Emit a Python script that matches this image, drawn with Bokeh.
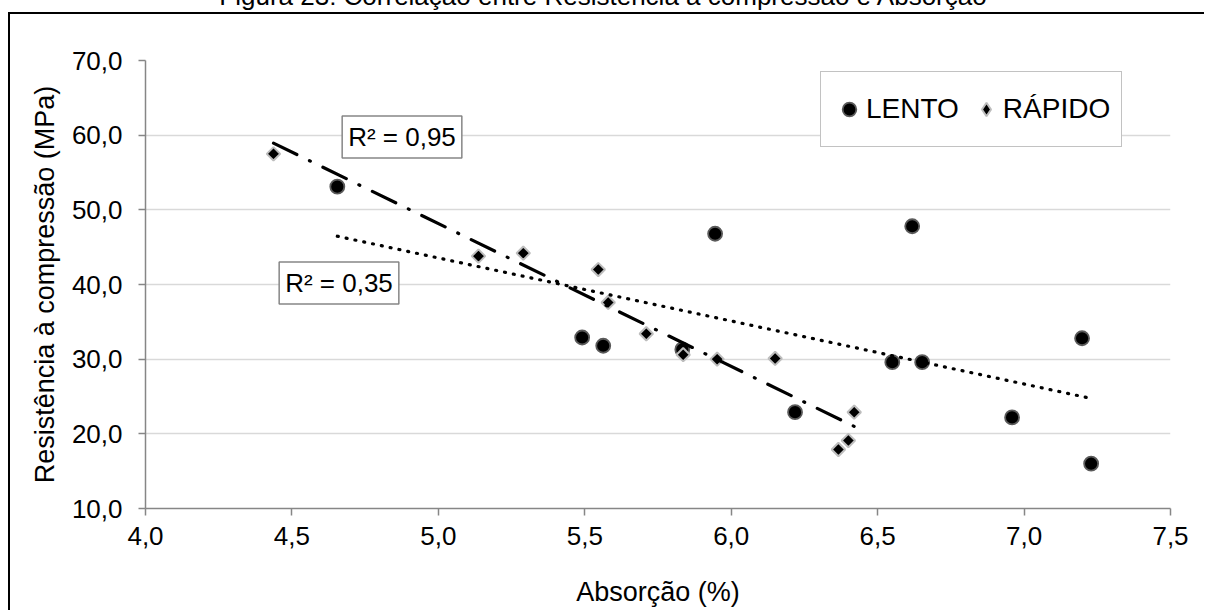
import numpy as np
from bokeh.plotting import figure
from bokeh.layouts import column
from bokeh.models import (Range1d, FixedTicker, CustomJSTickFormatter, Legend,
                          LegendItem, Label, Div)
from bokeh.embed import file_html
from bokeh.resources import INLINE

# ---------------- data ----------------
title_text = "Figura 23: Correlação entre Resistência à compressão e Absorção"
x_label = "Absorção (%)"
y_label = "Resistência à compressão (MPa)"
series_names = ["LENTO", "RÁPIDO"]

lento_abs = [4.655, 5.491, 5.563, 5.945, 5.833, 6.218, 6.618, 6.550, 6.652, 7.198, 6.959, 7.229]
lento_res = [53.1, 32.9, 31.8, 46.8, 31.3, 22.9, 47.8, 29.6, 29.6, 32.8, 22.2, 16.0]

rapido_abs = [4.437, 5.137, 5.290, 5.546, 5.580, 5.710, 5.836, 5.952, 6.150, 6.420, 6.400, 6.366]
rapido_res = [57.5, 43.8, 44.2, 42.0, 37.6, 33.4, 30.6, 30.0, 30.1, 22.9, 19.1, 17.9]

r2_labels = ["R² = 0,95", "R² = 0,35"]   # RÁPIDO, LENTO

x_ticks = [4.0, 4.5, 5.0, 5.5, 6.0, 6.5, 7.0, 7.5]
y_ticks = [10, 20, 30, 40, 50, 60, 70]

# ---------------- layout ----------------
PAGE_W, PAGE_H = 1206, 612
BOX_X, BOX_Y, BORDER = 8, 12, 2          # chart-area border (left / top) in page px
CX, CY = BOX_X + BORDER, BOX_Y + BORDER  # canvas origin in page px
W, H = PAGE_W - CX, PAGE_H - CY
FL, FR, FT, FB = 145, 1170, 60, 508      # frame edges in page px
X0, X1, Y0, Y1 = 4.0, 7.5, 10.0, 70.0
FONT = "Liberation Sans"


def px2x(px):
    return X0 + (px - FL) * (X1 - X0) / (FR - FL)


def py2y(py):
    return Y1 - (py - FT) * (Y1 - Y0) / (FB - FT)


p = figure(width=W, height=H, x_range=Range1d(X0, X1), y_range=Range1d(Y0, Y1),
           output_backend="svg", toolbar_location=None,
           min_border_left=FL - CX, min_border_right=(PAGE_W - FR),
           min_border_top=FT - CY, min_border_bottom=PAGE_H - FB,
           margin=(0, 0, 0, BOX_X),
           styles={"border-top": f"{BORDER}px solid black",
                   "border-left": f"{BORDER}px solid black"})
p.outline_line_color = None
p.background_fill_color = "white"
p.border_fill_color = "white"

fmt = CustomJSTickFormatter(code="return tick.toFixed(1).replace('.', ',');")
p.xaxis.ticker = FixedTicker(ticks=x_ticks)
p.yaxis.ticker = FixedTicker(ticks=y_ticks)
for ax in (p.xaxis[0], p.yaxis[0]):
    ax.formatter = fmt
    ax.axis_line_color = "#868686"
    ax.axis_line_width = 1.5
    ax.major_tick_line_color = "#868686"
    ax.major_tick_line_width = 1.5
    ax.major_tick_out = 7
    ax.major_tick_in = 0
    ax.minor_tick_line_color = None
    ax.major_label_text_font = FONT
    ax.major_label_text_font_size = "26px"
    ax.major_label_text_color = "black"
    ax.axis_label_text_font = FONT
    ax.axis_label_text_font_size = "27px"
    ax.axis_label_text_font_style = "normal"
    ax.axis_label_text_color = "black"
p.xaxis.axis_label = x_label
p.yaxis.axis_label = y_label
p.xaxis.major_label_standoff = 11
p.yaxis.major_label_standoff = 16
p.xaxis.axis_label_standoff = 29
p.yaxis.axis_label_standoff = 9

p.xgrid.grid_line_color = None
p.ygrid.grid_line_color = "#d9d9d9"
p.ygrid.grid_line_width = 1.5

# ---------------- marks ----------------
r_lento = p.scatter(lento_abs, lento_res, marker="circle", size=14,
                    fill_color="black", line_color="#5a5a5a", line_width=1.8)
r_rapido = p.scatter(rapido_abs, rapido_res, marker="square", angle=np.pi / 4, size=9.5,
                     fill_color="black", line_color="#bdbdbd", line_width=2)
# legend swatch for RÁPIDO (legend markers are drawn unrotated, so use a diamond)
r_rapido_key = p.scatter([np.nan], [np.nan], marker="diamond",
                         fill_color="black", line_color="#bdbdbd", line_width=2)

# linear trend lines (least-squares fit of each series, like the spreadsheet trendline)
for xs, ys, dash in ((lento_abs, lento_res, "1 8"),
                     (rapido_abs, rapido_res, "26 14 1 14")):
    m, b = np.polyfit(xs, ys, 1)
    tx = np.array([min(xs), max(xs)])
    p.line(tx, m * tx + b, line_color="black", line_width=3.2,
           line_dash=dash, line_cap="round")

# ---------------- legend ----------------
legend = Legend(items=[LegendItem(label=series_names[0], renderers=[r_lento]),
                       LegendItem(label=series_names[1], renderers=[r_rapido_key])],
                orientation="horizontal", location=(820 - FL, FB - 147),
                border_line_color="#868686", border_line_width=1.5,
                background_fill_color="white", background_fill_alpha=1.0,
                padding=11, spacing=10, margin=0,
                glyph_width=34, glyph_height=52, label_height=52,
                label_standoff=0,
                label_text_font=FONT, label_text_font_size="28px",
                label_text_color="black")
p.add_layout(legend, "center")

# ---------------- R² labels ----------------
for txt, cx, cy in ((r2_labels[0], 401.5, 136.5), (r2_labels[1], 338.5, 282.5)):
    p.add_layout(Label(x=px2x(cx), y=py2y(cy), text=txt, text_align="center",
                       text_baseline="middle", text_font=FONT, text_font_size="26px",
                       text_color="black", padding=6,
                       background_fill_color="white", border_line_color="#868686",
                       border_line_width=1.5))

# ---------------- title (only its lower edge is visible, as in the source) ----------------
title_div = Div(
    text=(f'<div style="position:relative; top:-17px; width:{PAGE_W}px; '
          f'text-align:center; white-space:nowrap; font-family:\'{FONT}\'; '
          f'font-size:26px; line-height:26px; color:black;">{title_text}</div>'),
    width=PAGE_W, height=BOX_Y, margin=0,
    styles={"overflow": "hidden"})

layout = column(title_div, p, spacing=0, margin=0)

open("out.html", "w").write(file_html(layout, INLINE))
